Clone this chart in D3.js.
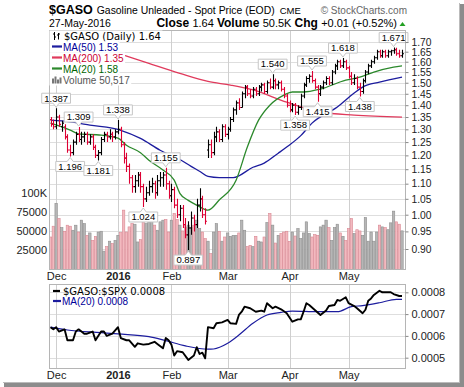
<!DOCTYPE html>
<html>
<head>
<meta charset="utf-8">
<title>$GASO</title>
<script src="https://cdn.jsdelivr.net/npm/d3@7"></script>
<style>
  body { margin: 0; background: #fff; }
  svg { display: block; }
  text { font-family: Arial, "Liberation Sans", sans-serif; }
</style>
</head>
<body>
<svg id="chart" width="464" height="387"></svg>
<script>

// Daily bars, 27-Nov-2015 .. 27-May-2016 (index = trading day)

var open = [1.34,1.32,1.31,1.35,1.31,1.31,1.27,1.22,1.21,1.25,1.28,1.26,1.27,1.28,1.25,1.27,1.23,1.20,1.21,1.26,
	1.28,1.27,1.28,1.27,1.29,1.30,1.24,1.19,1.16,1.12,1.09,1.11,1.13,1.09,1.05,1.07,1.09,1.10,1.07,1.11,
	1.12,1.13,1.10,1.06,1.08,1.03,1.00,1.02,0.97,0.94,0.96,0.99,0.97,1.03,1.05,1.00,1.22,1.24,1.21,1.27,
	1.29,1.26,1.31,1.28,1.30,1.34,1.38,1.41,1.39,1.45,1.48,1.45,1.44,1.47,1.45,1.48,1.49,1.46,1.50,1.48,
	1.51,1.49,1.50,1.47,1.44,1.40,1.38,1.40,1.37,1.39,1.44,1.49,1.52,1.53,1.51,1.48,1.45,1.48,1.50,1.52,
	1.50,1.55,1.58,1.60,1.58,1.60,1.57,1.53,1.50,1.52,1.48,1.46,1.51,1.55,1.58,1.60,1.62,1.65,1.63,1.65,
	1.63,1.65,1.655,1.66,1.64,1.63];
var high = [1.35,1.34,1.387,1.36,1.335,1.32,1.28,1.24,1.26,1.29,1.309,1.29,1.29,1.29,1.28,1.28,1.24,1.22,1.27,1.29,
	1.29,1.30,1.29,1.30,1.338,1.31,1.25,1.21,1.17,1.13,1.13,1.14,1.14,1.10,1.09,1.11,1.12,1.11,1.13,1.14,
	1.14,1.155,1.11,1.10,1.09,1.05,1.03,1.03,0.99,0.98,1.01,1.00,1.05,1.085,1.06,1.02,1.26,1.26,1.29,1.31,
	1.30,1.32,1.32,1.31,1.35,1.39,1.42,1.43,1.46,1.49,1.49,1.47,1.48,1.48,1.49,1.50,1.50,1.51,1.52,1.54,
	1.52,1.51,1.51,1.48,1.45,1.42,1.41,1.41,1.40,1.45,1.50,1.53,1.54,1.555,1.52,1.49,1.49,1.51,1.53,1.53,
	1.56,1.59,1.61,1.61,1.618,1.61,1.58,1.55,1.54,1.53,1.50,1.52,1.56,1.59,1.61,1.63,1.66,1.66,1.66,1.66,
	1.66,1.66,1.671,1.67,1.66,1.66];
var low = [1.31,1.30,1.30,1.31,1.29,1.26,1.21,1.196,1.20,1.24,1.25,1.24,1.25,1.24,1.24,1.22,1.19,1.181,1.20,1.25,
	1.25,1.26,1.25,1.26,1.28,1.23,1.17,1.14,1.10,1.07,1.07,1.09,1.07,1.024,1.04,1.06,1.07,1.05,1.06,1.09,
	1.09,1.08,1.05,1.04,1.02,0.99,0.98,0.96,0.93,0.897,0.94,0.95,0.96,1.01,0.99,0.97,1.19,1.19,1.20,1.25,
	1.25,1.25,1.27,1.26,1.29,1.33,1.36,1.38,1.39,1.43,1.44,1.43,1.43,1.44,1.44,1.46,1.45,1.45,1.47,1.47,
	1.47,1.47,1.46,1.43,1.39,1.37,1.37,1.358,1.36,1.38,1.43,1.48,1.50,1.50,1.47,1.415,1.44,1.47,1.49,1.49,
	1.49,1.54,1.56,1.57,1.57,1.56,1.52,1.49,1.49,1.47,1.438,1.45,1.50,1.54,1.57,1.59,1.61,1.62,1.62,1.62,
	1.62,1.63,1.64,1.63,1.62,1.62];
var close = [1.32,1.31,1.35,1.32,1.325,1.27,1.22,1.21,1.25,1.28,1.26,1.27,1.28,1.25,1.27,1.23,1.20,1.21,1.26,1.28,
	1.27,1.28,1.27,1.29,1.30,1.24,1.19,1.16,1.12,1.09,1.11,1.13,1.09,1.05,1.07,1.09,1.10,1.07,1.11,1.12,
	1.13,1.10,1.06,1.08,1.03,1.00,1.02,0.97,0.94,0.96,0.99,0.97,1.03,1.05,1.00,0.98,1.24,1.21,1.27,1.29,
	1.26,1.31,1.28,1.30,1.34,1.38,1.41,1.39,1.45,1.48,1.45,1.44,1.47,1.45,1.48,1.49,1.46,1.50,1.48,1.51,
	1.49,1.50,1.47,1.44,1.40,1.38,1.40,1.37,1.39,1.44,1.49,1.52,1.53,1.51,1.48,1.45,1.48,1.50,1.52,1.50,
	1.55,1.58,1.60,1.58,1.60,1.57,1.53,1.50,1.52,1.48,1.46,1.51,1.55,1.58,1.60,1.62,1.65,1.63,1.65,1.63,
	1.65,1.655,1.66,1.64,1.63,1.64];
var volume = [42500,56600,86400,66700,54800,50000,57900,56600,51300,57900,
	49000,64500,60000,44700,47800,38000,43400,49000,50000,24000,
	30000,37000,34000,38000,44700,48200,77600,49000,55700,60000,
	59200,36000,39000,62300,60000,62000,66700,58000,51300,62300,
	64500,65400,49000,64500,73300,65400,58000,50400,55700,58000,
	54800,58000,64500,53500,49000,40400,37000,20700,49000,60000,
	50000,37000,42500,47800,43400,44700,44700,47800,64500,51300,
	30000,31600,30000,43400,37000,36000,42500,61400,73300,58000,
	34600,44700,47000,49000,50000,36800,49000,43800,53500,40400,
	47800,62300,47000,42500,45600,44700,55700,58000,64500,54800,
	38000,54800,59200,47800,43400,38000,53500,66700,47000,52000,
	50400,44700,68000,37000,49000,37000,49000,58000,55700,54800,
	52000,61000,76300,62300,59200,50517];

// moving averages (at these bar indexes)
var ma50Idx = [0,7,14,25,32,39,46,50,53,56,60,65,72,76,81,84,89,93,102,108,111,117,125];
var ma50 = [1.337,1.330,1.317,1.296,1.264,1.219,1.185,1.160,1.143,1.125,1.121,1.121,1.157,1.172,1.208,1.231,1.275,1.325,1.392,1.453,1.480,1.503,1.526];
var ma200Idx = [26,35,46,56,64,72,84,96,108,125];
var ma200 = [1.633,1.592,1.544,1.506,1.489,1.467,1.413,1.371,1.358,1.350];
var ma20Idx = [0,7,10,18,24,27,32,35,40,44,46,49,52,56,60,66,70,74,78,83,86,90,96,105,110,115,122,125];
var ma20 = [1.325,1.297,1.282,1.277,1.265,1.238,1.210,1.182,1.147,1.112,1.068,1.045,1.030,1.014,1.046,1.112,1.231,1.337,1.400,1.444,1.458,1.458,1.471,1.512,1.526,1.550,1.574,1.580];

// $GASO:$SPX ratio
var ratioIdx = [0,1,2,3,5,6,8,9,10,12,13,15,16,18,19,20,22,24,25,27,28,30,31,33,35,37,38,40,41,42,
	43,44,45,47,49,51,52,53,54,55,56,58,59,61,63,64,66,67,68,69,71,73,75,76,77,79,80,82,84,86,
	88,89,90,91,92,94,96,98,99,101,102,103,105,106,108,109,111,112,113,114,115,117,118,121,122,124,125];
var ratio = [.000640,.000630,.000640,.000620,.000630,.000580,.000580,.000620,.000630,.000610,
	.000610,.000620,.000580,.000620,.000620,.000600,.000610,.000640,.000590,.000580,
	.000580,.000550,.000566,.000560,.000563,.000573,.000563,.000543,.000590,.000580,
	.000560,.000510,.000530,.000525,.000490,.000510,.000548,.000517,.000523,.000497,
	.000640,.000635,.000658,.000662,.000673,.000658,.000655,.000696,.000711,.000734,
	.000727,.000711,.000716,.000711,.000750,.000727,.000734,.000722,.000704,.000665,
	.000676,.000676,.000711,.000750,.000742,.000719,.000696,.000716,.000737,.000742,
	.000765,.000761,.000777,.000750,.000737,.000727,.000704,.000720,.000761,.000772,
	.000788,.000807,.000800,.000800,.000792,.000783,.000783];
var ratioMaIdx = [0,6,18,24,35,41,48,56,58,63,67,72,77,82,86,95,102,107,111,117,123,125];
var ratioMa = [.000640,.000627,.000615,.000609,.000597,.000578,.000554,.000539,.000540,.000566,.000604,
	.000658,.000696,.000708,.000714,.000711,.000711,.000734,.000739,.000752,.000768,.000768];

// axes
var priceTicks = [1.70,1.65,1.60,1.55,1.50,1.45,1.40,1.35,1.30,1.25,1.20,1.15,1.10,1.05,1.00,0.95,0.90];
var volTicks = [25000,50000,75000,100000];
var ratioTicks = [0.0005,0.0006,0.0007,0.0008];
var monthIdx = [2,24,43,63,85,106];
var monthLabels = ['Dec','2016','Feb','Mar','Apr','May'];

// labelled highs / lows
var peaks = [2,10,24,41,79,93,104,122];
var troughs = [7,17,33,49,87,95,110];

var last = close.length - 1,
	L = 49, R = 405.5,
	mainTop = 30.5, mainBot = 269.5,
	lowTop = 284.5, lowBot = 368.5,
	red = '#dd0033';

var svg = d3.select('#chart');

var x = d3.scaleLinear().domain([0, last]).range([50.5, 402]),
	y = d3.scaleLog().domain([0.90, 1.70]).range([249, 42]),
	yVol = d3.scaleLinear().domain([0, 100000]).range([mainBot, 193]),
	yRat = d3.scaleLinear().domain([0.0005, 0.0008]).range([357.7, 292.3]);

function up(i) { return i > 0 && close[i] >= close[i-1]; }

// shadow
svg.append('rect').attr('x', 460).attr('y', 4).attr('width', 4).attr('height', 383).attr('fill', '#8c8c8c');
svg.append('rect').attr('x', 4).attr('y', 383).attr('width', 460).attr('height', 4).attr('fill', '#8c8c8c');
svg.append('rect').attr('x', 459).attr('y', 3).attr('width', 1).attr('height', 380).attr('fill', '#bbb');
svg.append('rect').attr('x', 3).attr('y', 382).attr('width', 457).attr('height', 1).attr('fill', '#bbb');

// header
var head = svg.append('g');
var sym = head.append('text').attr('x', 49).attr('y', 14).style('font-size', '12.5px').style('font-weight', 'bold').text('$GASO');
var symEnd = 49 + sym.node().getComputedTextLength();
var desc = head.append('text').attr('x', symEnd + 4).attr('y', 14).style('font-size', '10.4px')
	.text('Gasoline Unleaded - Spot Price (EOD)');
var descEnd = symEnd + 4 + desc.node().getComputedTextLength();
head.append('text').attr('x', descEnd + 5).attr('y', 14).style('font-size', '9.5px').text('CME');
head.append('text').attr('x', 407).attr('y', 13.5).attr('text-anchor', 'end')
	.style('font-size', '10px').attr('fill', '#666')
	.text('\u00a9 StockCharts.com');
head.append('text').attr('x', 49).attr('y', 27).style('font-size', '10.5px').text('27-May-2016');

var info = head.append('text').attr('x', 397).attr('y', 27).attr('text-anchor', 'end').style('font-size', '11px');
info.append('tspan').style('font-weight', 'bold').style('font-size', '12px').text('Close ');
info.append('tspan').text('1.64 ');
info.append('tspan').style('font-weight', 'bold').style('font-size', '12px').text('Volume ');
info.append('tspan').text('50.5K ');
info.append('tspan').style('font-weight', 'bold').style('font-size', '12px').text('Chg ');
info.append('tspan').text('+0.01 (+0.52%)');
head.append('path').attr('d', 'M399.5,26 L402.5,22 L405.5,26 Z').attr('fill', '#22a022');

// clip paths
var defs = svg.append('defs');
defs.append('clipPath').attr('id', 'clipMain').append('rect')
	.attr('x', L).attr('y', mainTop).attr('width', R - L).attr('height', mainBot - mainTop);
defs.append('clipPath').attr('id', 'clipLow').append('rect')
	.attr('x', L).attr('y', lowTop).attr('width', R - L).attr('height', lowBot - lowTop);

// ---------- main panel ----------

var main = svg.append('g');

main.selectAll('line.hgrid').data(priceTicks).enter().append('line')
	.attr('x1', L).attr('x2', R)
	.attr('y1', function(d) { return Math.round(y(d)) + 0.5; })
	.attr('y2', function(d) { return Math.round(y(d)) + 0.5; })
	.attr('stroke', '#dedede');
main.selectAll('line.vgrid').data(monthIdx).enter().append('line')
	.attr('x1', function(d) { return Math.round(x(d)) + 0.5; })
	.attr('x2', function(d) { return Math.round(x(d)) + 0.5; })
	.attr('y1', mainTop).attr('y2', mainBot)
	.attr('stroke', '#cfcfcf');

var plot = main.append('g').attr('clip-path', 'url(#clipMain)');

// volume
plot.selectAll('rect.vol').data(volume).enter().append('rect')
	.attr('x', function(d, i) { return x(i) - 1.2; })
	.attr('y', function(d) { return yVol(d); })
	.attr('width', 2.4)
	.attr('height', function(d) { return yVol(0) - yVol(d); })
	.attr('fill', function(d, i) { return up(i) ? '#b6b6b6' : '#f2b9bf'; })
	.attr('stroke', function(d, i) { return up(i) ? '#8e8e8e' : '#d98893'; })
	.attr('stroke-width', 0.6);

// moving averages
function maLine(idx, vals, color) {
	var line = d3.line()
		.x(function(d, k) { return x(idx[k]); })
		.y(function(d) { return y(d); })
		.curve(d3.curveMonotoneX);
	plot.append('path').attr('d', line(vals))
		.attr('fill', 'none').attr('stroke', color).attr('stroke-width', 1.3);
}
maLine(ma200Idx, ma200, '#e03a5c');
maLine(ma50Idx, ma50, '#1c1c9e');
maLine(ma20Idx, ma20, '#2c892c');

// OHLC bars
plot.selectAll('path.bar').data(close).enter().append('path')
	.attr('d', function(c, i) {
		var xi = Math.round(x(i)) + 0.5;
		return 'M' + xi + ',' + y(high[i]) + 'V' + y(low[i]) +
			'M' + (xi - 1.5) + ',' + y(open[i]) + 'H' + xi +
			'M' + xi + ',' + y(c) + 'H' + (xi + 1.5);
	})
	.attr('fill', 'none')
	.attr('stroke', function(c, i) { return up(i) ? '#000' : red; })
	.attr('stroke-width', 1.1);

// callouts
function callout(i, val, above) {
	var g = main.append('g'),
		cx = x(i), py = y(val), h = 10;
	var t = g.append('text').attr('x', cx).attr('text-anchor', 'middle')
		.style('font-size', '9.5px').text(val.toFixed(3));
	var w = t.node().getComputedTextLength() + 5,
		top = above ? py - 5 - h : py + 5,
		bot = top + h,
		l = cx - w / 2, r = cx + w / 2,
		d = above ?
			'M' + l + ',' + top + 'H' + r + 'V' + bot + 'H' + (cx + 3) + 'L' + cx + ',' + (py - 1) + 'L' + (cx - 3) + ',' + bot + 'H' + l + 'Z' :
			'M' + l + ',' + top + 'H' + (cx - 3) + 'L' + cx + ',' + (py + 1) + 'L' + (cx + 3) + ',' + top + 'H' + r + 'V' + bot + 'H' + l + 'Z';
	g.insert('path', 'text').attr('d', d).attr('fill', '#fff').attr('stroke', '#c6c6c6');
	t.attr('y', top + 8.3);
}
peaks.forEach(function(i) { callout(i, high[i], true); });
troughs.forEach(function(i) { callout(i, low[i], false); });

// legend
var legRows = [
	{ text: '$GASO (Daily) ' + close[last].toFixed(2), color: '#000', icon: 'ohlc' },
	{ text: 'MA(50) ' + ma50[ma50.length - 1].toFixed(2), color: '#000099', icon: '#1c1c9e' },
	{ text: 'MA(200) ' + ma200[ma200.length - 1].toFixed(2), color: '#cc0033', icon: '#e03a5c' },
	{ text: 'MA(20) ' + ma20[ma20.length - 1].toFixed(2), color: '#006600', icon: '#2c892c' },
	{ text: 'Volume ' + d3.format(',')(volume[last]), color: '#555', icon: 'vol' }
];
var leg = svg.append('g');
legRows.forEach(function(row, k) {
	var base = 39.5 + k * 11,
		g = leg.append('g');
	var bg = g.append('rect').attr('fill', '#fff');
	var t = g.append('text').attr('x', k === 0 ? 64 : 63).attr('y', base)
		.attr('fill', row.color).style('font-size', '10px').text(row.text);
	if (k === 0) t.style('font-family', '"DejaVu Sans", sans-serif');
	var w = t.node().getComputedTextLength();
	bg.attr('x', L + 0.5).attr('y', base - 9).attr('width', (k === 0 ? 64 : 63) + w - L + 1).attr('height', 11);
	if (row.icon === 'ohlc') {
		g.append('path').attr('d', 'M54.5,32V40M53,34H54.5M54.5,37H56M58.5,33V39.5M57,35H58.5M58.5,34H60')
			.attr('stroke', '#000').attr('fill', 'none');
	} else if (row.icon === 'vol') {
		[[52, 5], [54.5, 7], [57, 4], [59.5, 6]].forEach(function(b) {
			g.append('rect').attr('x', b[0]).attr('y', base - b[1]).attr('width', 2).attr('height', b[1])
				.attr('fill', '#777');
		});
	} else {
		g.append('line').attr('x1', 52).attr('x2', 62).attr('y1', base - 4).attr('y2', base - 4)
			.attr('stroke', row.icon).attr('stroke-width', 2.2);
	}
});

main.append('rect').attr('x', L + 0.5).attr('y', mainTop).attr('width', R - L - 0.5).attr('height', mainBot - mainTop)
	.attr('fill', 'none').attr('stroke', '#b5b5b5');

// axes
var yAxis = main.append('g').attr('transform', 'translate(' + R + ',0)')
	.call(d3.axisRight(y).tickValues(priceTicks).tickSize(3).tickFormat(d3.format('.2f')));
yAxis.select('.domain').remove();

var volAxis = main.append('g').attr('transform', 'translate(' + L + ',0)')
	.call(d3.axisLeft(yVol).tickValues(volTicks).tickSize(0).tickPadding(2)
		.tickFormat(function(d) { return d === 100000 ? '100K' : d; }));
volAxis.select('.domain').remove();

var xAxis = main.append('g').attr('transform', 'translate(0,' + mainBot + ')')
	.call(d3.axisBottom(x).tickValues(monthIdx).tickSize(0).tickPadding(2.5)
		.tickFormat(function(d, k) { return monthLabels[k]; }));
xAxis.select('.domain').remove();

// ---------- ratio panel ----------

var low = svg.append('g');

low.selectAll('line.hgrid').data(ratioTicks).enter().append('line')
	.attr('x1', L).attr('x2', R)
	.attr('y1', function(d) { return Math.round(yRat(d)) + 0.5; })
	.attr('y2', function(d) { return Math.round(yRat(d)) + 0.5; })
	.attr('stroke', '#dedede');
low.selectAll('line.vgrid').data(monthIdx).enter().append('line')
	.attr('x1', function(d) { return Math.round(x(d)) + 0.5; })
	.attr('x2', function(d) { return Math.round(x(d)) + 0.5; })
	.attr('y1', lowTop).attr('y2', lowBot)
	.attr('stroke', '#cfcfcf');

var lowPlot = low.append('g').attr('clip-path', 'url(#clipLow)');

lowPlot.append('path')
	.attr('d', d3.line()
		.x(function(d, k) { return x(ratioMaIdx[k]); })
		.y(function(d) { return yRat(d); })
		.curve(d3.curveMonotoneX)(ratioMa))
	.attr('fill', 'none').attr('stroke', '#1c1c9e').attr('stroke-width', 1.2);

lowPlot.append('path')
	.attr('d', d3.line()
		.x(function(d, k) { return x(ratioIdx[k]); })
		.y(function(d) { return yRat(d); })(ratio))
	.attr('fill', 'none').attr('stroke', '#000').attr('stroke-width', 1.9)
	.attr('stroke-linejoin', 'round');

low.append('rect').attr('x', L + 0.5).attr('y', lowTop).attr('width', R - L - 0.5).attr('height', lowBot - lowTop)
	.attr('fill', 'none').attr('stroke', '#b5b5b5');

var rAxis = low.append('g').attr('transform', 'translate(' + R + ',0)')
	.call(d3.axisRight(yRat).tickValues(ratioTicks).tickSize(3).tickFormat(d3.format('.4f')));
rAxis.select('.domain').remove();

var x2Axis = low.append('g').attr('transform', 'translate(0,' + lowBot + ')')
	.call(d3.axisBottom(x).tickValues(monthIdx).tickSize(0).tickPadding(3)
		.tickFormat(function(d, k) { return monthLabels[k]; }));
x2Axis.select('.domain').remove();

// ratio legend
low.append('line').attr('x1', 53).attr('x2', 60).attr('y1', 291).attr('y2', 291)
	.attr('stroke', '#000').attr('stroke-width', 2.2);
low.append('text').attr('x', 63).attr('y', 295).style('font-family', '"DejaVu Sans", sans-serif')
	.style('font-size', '10px').text('$GASO:$SPX ' + ratio[ratio.length - 1].toFixed(4));
low.append('line').attr('x1', 53).attr('x2', 61).attr('y1', 301).attr('y2', 301)
	.attr('stroke', '#1c1c9e').attr('stroke-width', 2.2);
low.append('text').attr('x', 62).attr('y', 304.5).attr('fill', '#000099')
	.style('font-size', '10px').text('MA(20) ' + ratioMa[ratioMa.length - 1].toFixed(4));

// axis text styling
svg.selectAll('.tick text').style('font-family', 'Arial, "Liberation Sans", sans-serif')
	.style('font-size', '11px').attr('fill', '#222');
yAxis.selectAll('.tick text').style('font-size', '10.3px');
svg.selectAll('.tick line').attr('stroke', '#888');
xAxis.selectAll('.tick text').filter(function(d, k) { return monthLabels[k] === '2016'; }).style('font-weight', 'bold');
x2Axis.selectAll('.tick text').filter(function(d, k) { return monthLabels[k] === '2016'; }).style('font-weight', 'bold');

</script>
</body>
</html>
